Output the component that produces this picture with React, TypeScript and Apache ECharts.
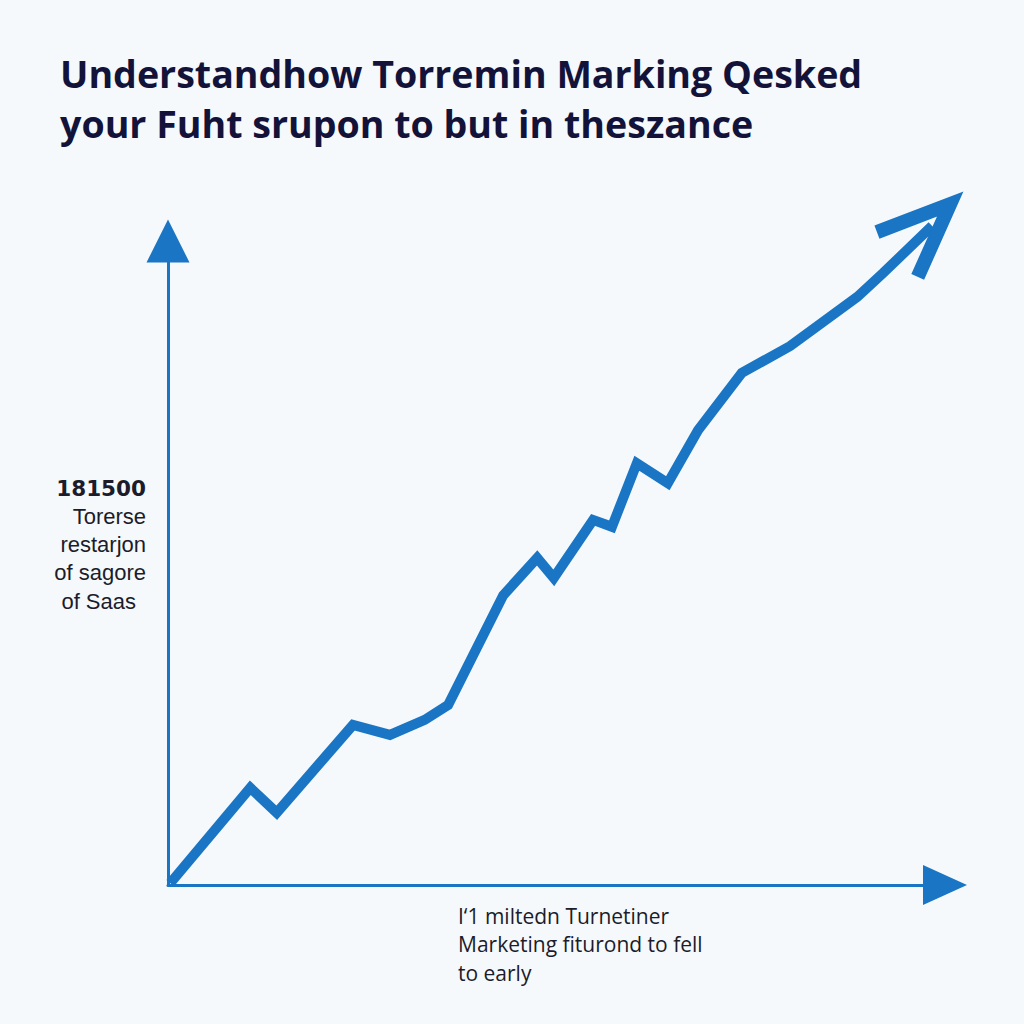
import React, { useEffect, useRef } from "react";
import * as echarts from "echarts";

const titleLines = [
  "Understandhow Torremin Marking Qesked",
  "your Fuht srupon to but in theszance",
];
const yLabelLines = ["181500", "Torerse", "restarjon", "of sagore", "of Saas"];
const xLabelLines = ["I‘1 miltedn Turnetiner", "Marketing fiturond to fell", "to early"];

const xValues = [0.3, 10.9, 14.4, 24.5, 29.4, 34.0, 37.1, 44.4, 48.9, 51.1, 56.3, 58.8, 62.1, 66.2, 70.2, 76.0, 82.4, 91.3, 94.7, 101.2];
const yValues = [0.3, 15.6, 11.6, 25.7, 24.1, 26.5, 28.9, 46.5, 52.5, 49.3, 58.6, 57.5, 67.7, 64.5, 73.0, 82.2, 86.5, 94.4, 98.2, 105.8];

const headX = [93.9, 103.6, 99.3];
const headY = [104.8, 109.3, 97.6];

const BLUE = "#1a76c4";
const BG = "#f5f9fc";

// pixel geometry of the visible axes
const LEFT = 168;
const BOTTOM_Y = 885;
const X_LEN = 755; // px for 100 units
const Y_LEN = 623; // px for 100 units
const EXT_X = 112;
const EXT_Y = 120;

export default function App() {
  const ref = useRef<HTMLDivElement>(null);
  useEffect(() => {
    if (!ref.current) return;
    const chart = echarts.init(ref.current, undefined, { renderer: "svg" });
    const lineData = xValues.map((x, i) => [x, yValues[i]]);
    const headData = headX.map((x, i) => [x, headY[i]]);
    const graphics: any[] = [];
    titleLines.forEach((t, i) => {
      graphics.push({
        type: "text",
        x: 60,
        y: 73.5 + i * 50,
        style: {
          text: t,
          fontFamily: "Open Sans",
          fontWeight: "bold",
          fontSize: 37.6,
          fill: "#13133a",
          align: "left",
          verticalAlign: "middle",
        },
      });
    });
    yLabelLines.forEach((t, i) => {
      graphics.push({
        type: "text",
        x: i === 4 ? 136 : 146,
        y: 488 + i * 28.3,
        style: {
          text: t,
          fontFamily: i === 0 ? "DejaVu Sans" : "Liberation Sans",
          fontWeight: i === 0 ? "bold" : "normal",
          fontSize: i === 0 ? 21.5 : 22,
          fill: "#1c1c2a",
          align: "right",
          verticalAlign: "middle",
        },
      });
    });
    xLabelLines.forEach((t, i) => {
      graphics.push({
        type: "text",
        x: 458,
        y: 915.5 + i * 28.8,
        style: {
          text: t,
          fontFamily: "Open Sans",
          fontSize: 21,
          fill: "#1c1c2a",
          align: "left",
          verticalAlign: "middle",
        },
      });
    });
    const hiddenAxis = {
      axisLine: { show: false },
      axisTick: { show: false },
      axisLabel: { show: false },
      splitLine: { show: false },
    };
    chart.setOption({
      animation: false,
      backgroundColor: BG,
      grid: [
        { left: LEFT, top: BOTTOM_Y - Y_LEN, width: X_LEN, height: Y_LEN, containLabel: false },
        {
          left: LEFT,
          top: BOTTOM_Y - (Y_LEN * EXT_Y) / 100,
          width: (X_LEN * EXT_X) / 100,
          height: (Y_LEN * EXT_Y) / 100,
          containLabel: false,
        },
      ],
      xAxis: [
        {
          type: "value",
          gridIndex: 0,
          min: 0,
          max: 100,
          axisLine: {
            show: true,
            lineStyle: { color: BLUE, width: 3 },
            symbol: ["none", "triangle"],
            symbolSize: [40, 44],
            symbolOffset: [0, 22],
          },
          axisTick: { show: false },
          axisLabel: { show: false },
          splitLine: { show: false },
        },
        { type: "value", gridIndex: 1, min: 0, max: EXT_X, ...hiddenAxis },
      ],
      yAxis: [
        {
          type: "value",
          gridIndex: 0,
          min: 0,
          max: 100,
          axisLine: {
            show: true,
            lineStyle: { color: BLUE, width: 3 },
            symbol: ["none", "triangle"],
            symbolSize: [43, 43],
            symbolOffset: [0, 21],
          },
          axisTick: { show: false },
          axisLabel: { show: false },
          splitLine: { show: false },
        },
        { type: "value", gridIndex: 1, min: 0, max: EXT_Y, ...hiddenAxis },
      ],
      series: [
        {
          type: "line",
          xAxisIndex: 1,
          yAxisIndex: 1,
          data: lineData,
          showSymbol: false,
          symbol: "none",
          lineStyle: { color: BLUE, width: 10, join: "miter", cap: "butt" },
          z: 3,
        },
        {
          type: "line",
          xAxisIndex: 1,
          yAxisIndex: 1,
          data: headData,
          showSymbol: false,
          symbol: "none",
          lineStyle: { color: BLUE, width: 14, join: "miter", cap: "butt", miterLimit: 10 },
          z: 3,
        },
      ],
      graphic: graphics,
    });
    return () => chart.dispose();
  }, []);
  return (
    <div
      ref={ref}
      style={{ position: "absolute", left: 0, top: 0, width: 1024, height: 1024, background: BG }}
    />
  );
}
